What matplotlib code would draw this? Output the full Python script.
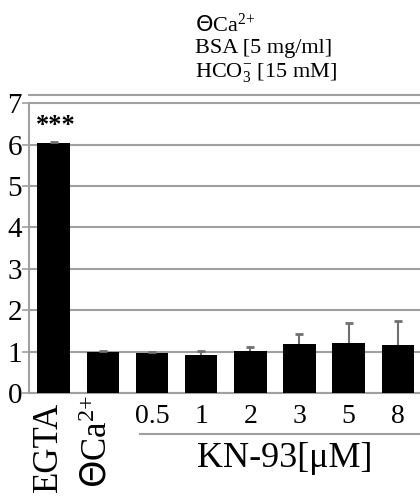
import matplotlib
matplotlib.use("Agg")
import matplotlib.pyplot as plt
import numpy as np
from matplotlib.lines import Line2D
from matplotlib.transforms import blended_transform_factory

plt.rcParams["font.family"] = ["Liberation Serif", "DejaVu Sans"]
plt.rcParams["mathtext.fontset"] = "custom"
plt.rcParams["mathtext.rm"] = "Liberation Serif"
plt.rcParams["mathtext.it"] = "Liberation Serif:italic"
plt.rcParams["mathtext.sf"] = "DejaVu Sans"

# data
labels = ["EGTA", r"$\mathsf{\Theta}\mathrm{Ca}^{2\!+}$", "0.5", "1", "2", "3", "5", "8"]
values = [6.05, 1.0, 0.96, 0.93, 1.01, 1.18, 1.22, 1.15]
errors = [0.02, 0.01, 0.04, 0.08, 0.11, 0.25, 0.48, 0.59]
yticks = [0, 1, 2, 3, 4, 5, 6, 7]
conditions = [r"$\mathsf{\Theta}\mathrm{Ca}^{2\!+}$", "BSA [5 mg/ml]",
              r"$\mathrm{HCO}_3^{-}$ [15 mM]"]

GRID = "#a0a0a0"

fig = plt.figure(figsize=(4.2, 4.97), dpi=100)
ax = fig.add_axes([0.069, 0.209, 0.931, 0.6])

x = np.arange(len(values))
ax.bar(x, values, width=0.66, color="black", zorder=3)
eb = ax.errorbar(x, values, yerr=[np.zeros(len(errors)), errors], fmt="none",
                 ecolor="#707070", elinewidth=1.5, capsize=3, capthick=2, zorder=2)
eb[1][0].set_visible(False)   # no cap at the bar top
eb[1][1].set_color("black")
eb[1][1].set_zorder(4)

ax.set_xlim(-0.5, 7.45)
ax.set_ylim(0, 7.2)
ax.set_yticks(yticks)
ax.set_yticklabels([str(t) for t in yticks], fontsize=21)
ax.yaxis.grid(True, color=GRID, linewidth=1.5, zorder=0)
ax.set_axisbelow(True)
ax.tick_params(axis="y", length=5, width=1.2, color=GRID, pad=0)
ax.tick_params(axis="x", length=0)
ax.set_xticks([])

for side in ["left", "bottom", "top"]:
    ax.spines[side].set_color(GRID)
    ax.spines[side].set_linewidth(1.5)
ax.spines["left"].set_bounds(0, 7)
ax.spines["right"].set_visible(False)

trans = blended_transform_factory(ax.transData, ax.transAxes)

# rotated category labels
ax.text(x[0] - 0.1, -0.03, labels[0], rotation=90, ha="center", va="top",
        fontsize=25, transform=trans)
ax.text(x[1] - 0.1, -0.005, labels[1], rotation=90, ha="center", va="top",
        fontsize=25, transform=trans)
for xi, lab in zip(x[2:], labels[2:]):
    ax.text(xi, -0.08, lab, ha="center", va="center", fontsize=20, transform=trans)

ax.add_line(Line2D([1.76, 7.45], [-0.138, -0.138], color=GRID, linewidth=1.5,
                   transform=trans, clip_on=False))
ax.text(4.7, -0.218, "KN-93[μM]", ha="center", va="center", fontsize=26,
        transform=trans)

ax.text(x[0] + 0.05, values[0] + 0.4, "***", ha="center", va="center",
        fontsize=19, fontweight="bold")

for i, line in enumerate(conditions):
    fig.text(195 / 420, 1 - (25 + 24 * i) / 497, line, ha="left", va="center",
             fontsize=16)

fig.savefig("out.png", dpi=100)
